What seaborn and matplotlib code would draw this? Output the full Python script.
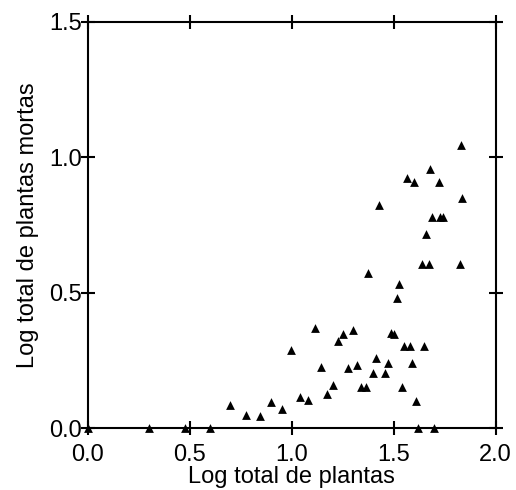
import matplotlib
matplotlib.use("Agg")
import matplotlib.pyplot as plt
import seaborn as sns
import pandas as pd

# Log-transformed counts per plot: total plants vs. dead plants
log_total = [
    0.000, 0.303, 0.479, 0.602, 0.700, 0.777, 0.844, 0.901, 0.954,
    0.999, 1.040, 1.079, 1.114, 1.145, 1.175, 1.203, 1.230, 1.254,
    1.277, 1.300, 1.321, 1.341, 1.364, 1.377, 1.398, 1.414, 1.429,
    1.460, 1.475, 1.488, 1.504, 1.516, 1.529, 1.543, 1.551, 1.566,
    1.579, 1.591, 1.600, 1.609, 1.622, 1.641, 1.651, 1.659, 1.673,
    1.680, 1.687, 1.697, 1.723, 1.729, 1.741, 1.824, 1.831, 1.836,
]
log_dead = [
    0.000, 0.000, 0.000, 0.000, 0.086, 0.049, 0.047, 0.096, 0.070,
    0.289, 0.114, 0.104, 0.369, 0.225, 0.127, 0.160, 0.322, 0.348,
    0.224, 0.361, 0.232, 0.154, 0.154, 0.574, 0.203, 0.261, 0.824,
    0.203, 0.242, 0.353, 0.348, 0.480, 0.532, 0.154, 0.304, 0.924,
    0.304, 0.242, 0.907, 0.102, 0.000, 0.605, 0.304, 0.718, 0.605,
    0.956, 0.781, 0.000, 0.907, 0.781, 0.781, 0.605, 1.045, 0.848,
]
x_ticks = [0.0, 0.5, 1.0, 1.5, 2.0]
y_ticks = [0.0, 0.5, 1.0, 1.5]

df = pd.DataFrame({"log_total": log_total, "log_dead": log_dead})

sns.set_style("ticks")
plt.rcParams["font.family"] = ["Liberation Sans", "DejaVu Sans"]
plt.rcParams["text.color"] = "black"
plt.rcParams["axes.labelcolor"] = "black"

fig = plt.figure(figsize=(5.16, 4.90), dpi=100)
ax = fig.add_axes([0.1696, 0.1259, 0.7907, 0.8298])

sns.scatterplot(data=df, x="log_total", y="log_dead", marker="^", s=40,
                color="black", edgecolor="black", linewidth=0, ax=ax,
                clip_on=False, zorder=3)

ax.set_xlim(0, 2.0)
ax.set_ylim(0, 1.5)
ax.set_xticks(x_ticks)
ax.set_yticks(y_ticks)
ax.set_xticklabels([f"{v:.1f}" for v in x_ticks])
ax.set_yticklabels([f"{v:.1f}" for v in y_ticks])

for side in ["left", "right", "top", "bottom"]:
    ax.spines[side].set_visible(True)
    ax.spines[side].set_linewidth(1.5)
    ax.spines[side].set_color("black")

ax.tick_params(axis="both", which="major", direction="inout", length=10,
               width=1.5, color="black", labelsize=17,
               top=True, right=True, labelcolor="black")
ax.tick_params(axis="x", pad=6)
ax.tick_params(axis="y", pad=-1)

ax.set_xlabel("Log total de plantas", fontsize=17, labelpad=0)
ax.set_ylabel("Log total de plantas mortas", fontsize=17, labelpad=7)

fig.savefig("out.png", dpi=100, facecolor="white")
